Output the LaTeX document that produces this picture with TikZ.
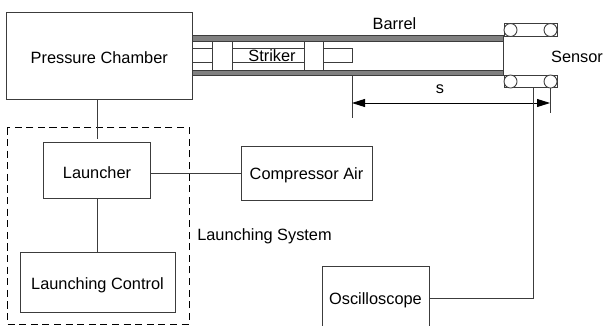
\documentclass[tikz,border=0pt]{standalone}
\usepackage{fontspec}
\setmainfont{Liberation Sans}
\usepackage{xcolor}
\usetikzlibrary{arrows.meta}
\definecolor{bargrey}{RGB}{128,128,128}
\definecolor{edge}{RGB}{60,60,60}
\tikzset{
  block/.style={draw=edge,line width=0.5pt,fill=white,inner sep=0pt,text height=7pt,text depth=0pt,font=\fontsize{9.3}{10}\selectfont},
  lab/.style={inner sep=0pt,font=\fontsize{9.3}{10}\selectfont},
  wire/.style={draw=edge,line width=0.5pt},
  ring/.style={circle,draw=edge,line width=0.5pt,fill=white,minimum size=2.6mm,inner sep=0pt},
  tip/.style={{Triangle[length=2.6mm,width=1.6mm]}-{Triangle[length=2.6mm,width=1.6mm]}}
}
\begin{document}
\begin{tikzpicture}[x=0.2mm,y=-0.2mm]
  \useasboundingbox (0,0) rectangle (603,325);
  % launching system
  \draw[black,line width=0.5pt,dash pattern=on 4pt off 2.6pt] (7,127.5) rectangle (189,324);
  \node[block,text height=9pt,minimum width=37.3mm,minimum height=17.4mm] (chamber) at (99.25,55.5) {Pressure Chamber};
  \node[block,text height=9pt,minimum width=21.5mm,minimum height=11.1mm] (launcher) at (97,170.5) {Launcher};
  \node[block,minimum width=26.2mm,minimum height=10.8mm] (air) at (306.5,173) {Compressor Air};
  \node[block,text height=8pt,minimum width=31mm,minimum height=12mm] (control) at (97.5,282) {Launching Control};
  \node[block,minimum width=21.4mm,minimum height=12.8mm] (scope) at (375.5,298) {Oscilloscope};
  \coordinate (chamberEnd) at (97,139);
  \draw[wire] (chamber.south -| chamberEnd) -- (chamberEnd);
  \draw[wire] (air.west -| launcher.east) -- (air.west);
  \draw[wire] (launcher.south) -- (control.north -| launcher.south);
  % barrel
  \fill[bargrey,draw=edge,line width=0.4pt] (192,35.5) rectangle (503,41);
  \fill[bargrey,draw=edge,line width=0.4pt] (192,70) rectangle (503,75.5);
  \draw[wire] (503,36) -- (503,75);
  % striker
  \draw[wire] (192,48) -- (352,48) -- (352,62) -- (192,62);
  \node[block,minimum width=3.9mm,minimum height=5.8mm] (pistonL) at (222.5,55.5) {};
  \node[block,minimum width=3.9mm,minimum height=5.8mm] (pistonR) at (314,55.5) {};
  % sensors
  \draw[wire] (504.5,23.5) rectangle (557,36);
  \draw[wire] (504.5,75.5) rectangle (557,87.5);
  \node[ring] (ringA) at (510.5,30) {};
  \node[ring] (ringB) at (550.5,30) {};
  \node[ring] (ringC) at (510.5,81.5) {};
  \node[ring] (ringD) at (550.5,81.5) {};
  % distance
  \coordinate (tickL) at (352,76);
  \coordinate (tickLend) at (352,118);
  \coordinate (tickR) at (550,87.5);
  \coordinate (tickRend) at (550,113);
  \coordinate (sigTop) at (533,87.5);
  \coordinate (sigCorner) at (533,298);
  \coordinate (arrowL) at (352,103);
  \coordinate (arrowR) at (550,103);
  \draw[wire] (tickL) -- (tickLend);
  \draw[wire] (tickR) -- (tickRend);
  \draw[black,line width=0.5pt,tip] (arrowL) -- (arrowR);
  \draw[wire] (scope.east) -- (sigCorner) -- (sigTop);
  % labels
  \node[lab] (barrel) at (394.5,24) {Barrel};
  \node[lab] (striker) at (272,55.5) {Striker};
  \node[lab] (sensor) at (577,57) {Sensor};
  \node[lab] (dist) at (440,89) {s};
  \node[lab] (system) at (264.5,236) {Launching System};
\end{tikzpicture}
\end{document}
